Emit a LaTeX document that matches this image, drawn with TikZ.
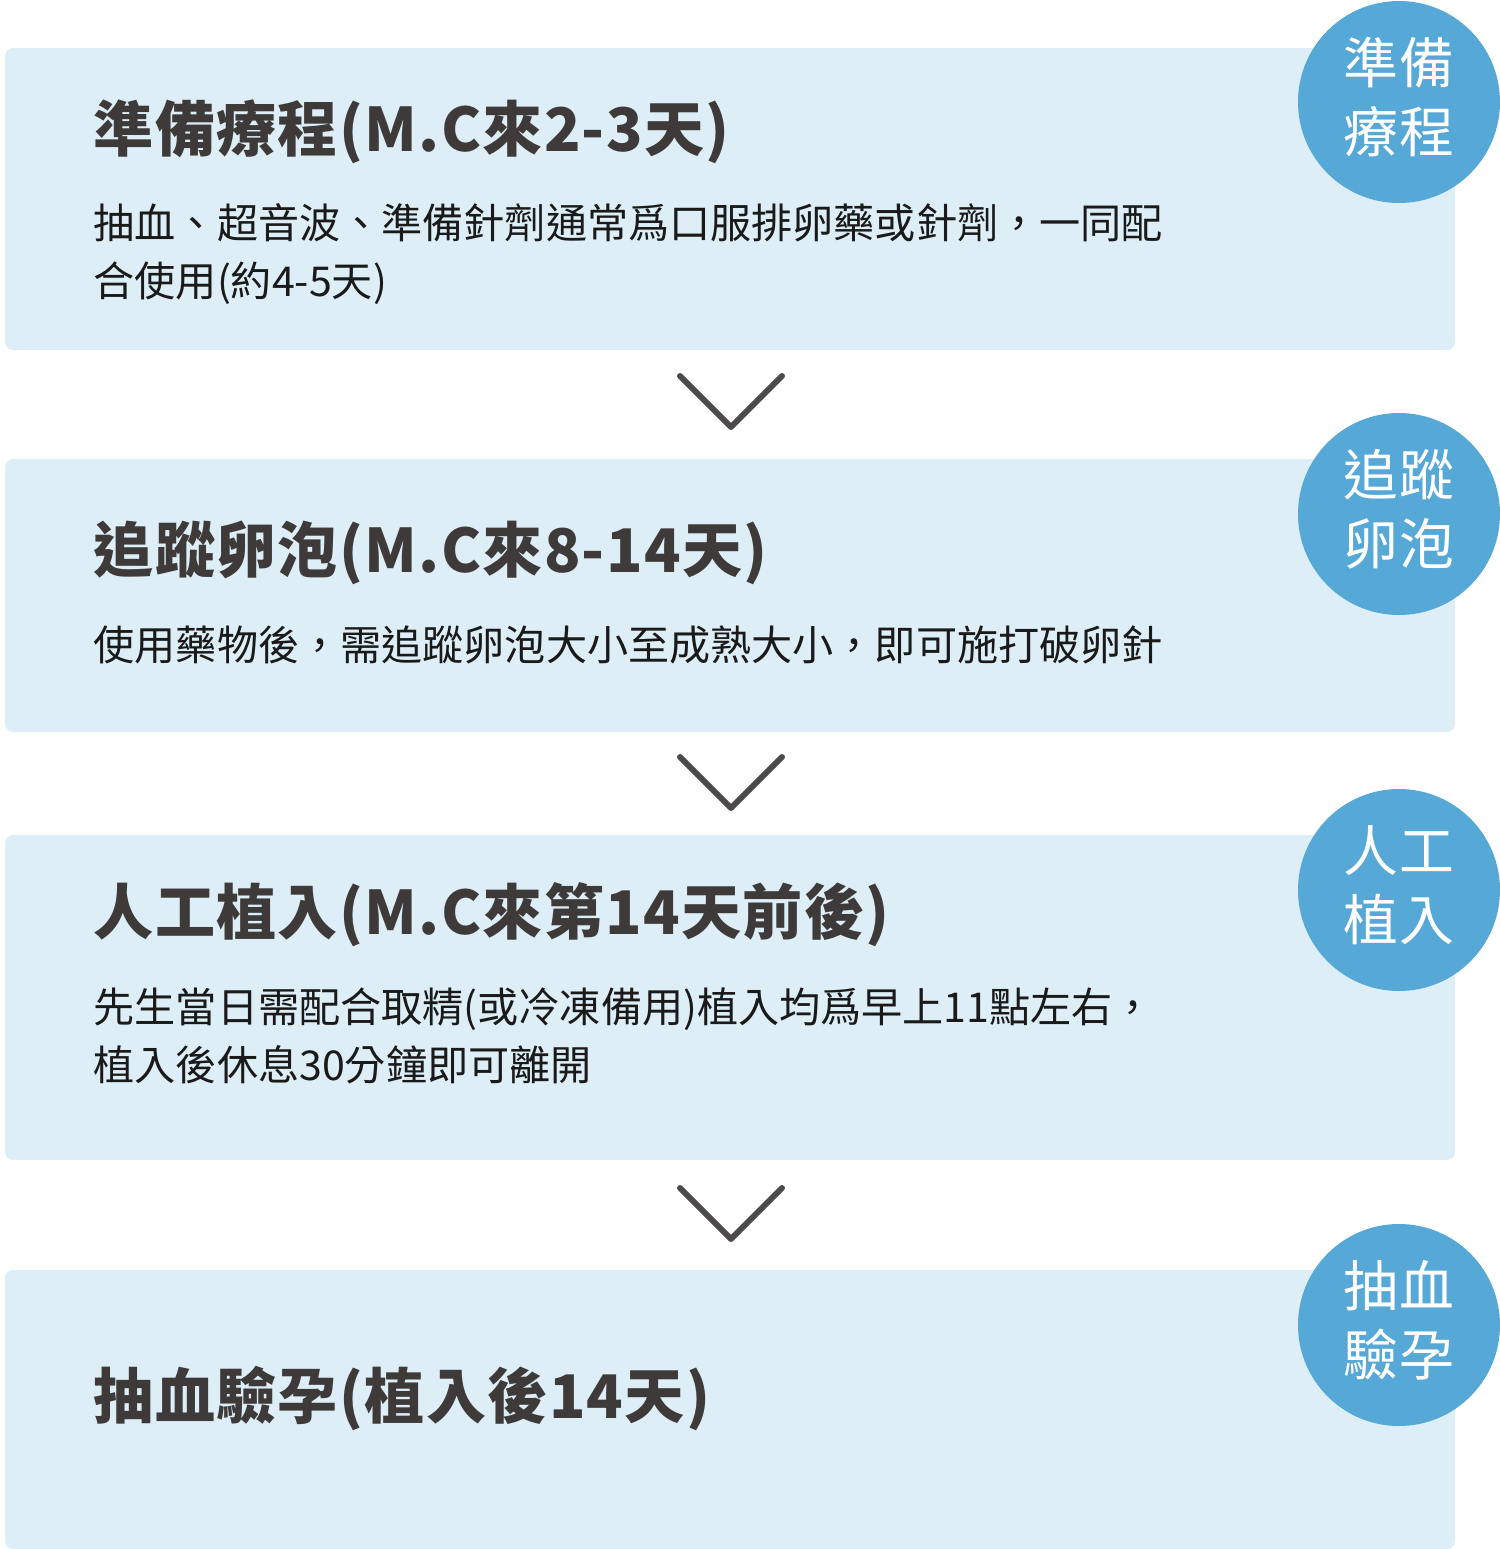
\documentclass[tikz,border=0pt]{standalone}
\usepackage{fontspec}
\setmainfont{Noto Sans CJK TC}
\definecolor{fondBoite}{HTML}{DDEEF7}
\definecolor{bleuRond}{HTML}{56A8D6}
\definecolor{grisTitre}{HTML}{3E3A39}
\definecolor{grisFleche}{HTML}{4D4A4B}
\definecolor{noirTexte}{HTML}{1A1A1A}

\begin{document}
\begin{tikzpicture}[x=1cm,y=1cm]
    % Styles (MODIFIABLES)
    \tikzstyle{boite}=[fill=fondBoite,rounded corners=0.08cm,inner sep=0,outer sep=0]
    \tikzstyle{rond}=[fill=bleuRond,circle,minimum size=2.02cm,inner sep=0]
    \tikzstyle{etiquette}=[inner sep=0,text=white,align=center,font=\fontsize{15.6pt}{19.6pt}\selectfont\addfontfeature{LetterSpace=2}]
    \tikzstyle{titre}=[anchor=west,inner sep=0,text=grisTitre,font=\fontsize{17.1pt}{20pt}\selectfont\bfseries\addfontfeature{LetterSpace=2.2}]
    \tikzstyle{texte}=[anchor=west,inner sep=0,text=noirTexte,align=left,font=\fontsize{11.7pt}{16.5pt}\selectfont]
    \tikzstyle{chevron}=[line width=1.7pt,grisFleche,line cap=round,line join=round]
    % Dimensions (MODIFIABLES)
    \def\Gauche{0.05}
    \def\Droite{14.55}
    \def\MargeTexte{0.93}
    \def\XRond{13.99}
    \def\DecalageEtiquette{0.05}
    \def\DemiChevron{0.51}
    % Cadre
    \useasboundingbox (0,0) rectangle (15,-15.49);
    % Boites
    \fill[boite] (\Gauche,-0.48) rectangle (\Droite,-3.50);
    \fill[boite] (\Gauche,-4.59) rectangle (\Droite,-7.32);
    \fill[boite] (\Gauche,-8.35) rectangle (\Droite,-11.60);
    \fill[boite] (\Gauche,-12.70) rectangle (\Droite,-15.49);
    % Noeuds (MODIFIABLES)
    \node[titre] (Ta) at (\MargeTexte,-1.32) {準備療程(M.C來2-3天)};
    \node[texte] (Ba) at (\MargeTexte,-2.54) {抽血、超音波、準備針劑通常爲口服排卵藥或針劑，一同配\\合使用(約4-5天)};
    \node[rond] (Ra) at (\XRond,-1.02) {};
    \node[etiquette] (Ea) at ([yshift=\DecalageEtiquette cm]Ra.center) {準備\\療程};

    \node[titre] (Tb) at (\MargeTexte,-5.53) {追蹤卵泡(M.C來8-14天)};
    \node[texte] (Bb) at (\MargeTexte,-6.45) {使用藥物後，需追蹤卵泡大小至成熟大小，即可施打破卵針};
    \node[rond] (Rb) at (\XRond,-5.14) {};
    \node[etiquette] (Eb) at ([yshift=\DecalageEtiquette cm]Rb.center) {追蹤\\卵泡};

    \node[titre] (Tc) at (\MargeTexte,-9.15) {人工植入(M.C來第14天前後)};
    \node[texte] (Bc) at (\MargeTexte,-10.36) {先生當日需配合取精(或冷凍備用)植入均爲早上11點左右，\\植入後休息30分鐘即可離開};
    \node[rond] (Rc) at (\XRond,-8.90) {};
    \node[etiquette] (Ec) at ([yshift=\DecalageEtiquette cm]Rc.center) {人工\\植入};

    \node[titre] (Td) at (\MargeTexte,-13.98) {抽血驗孕(植入後14天)};
    \node[rond] (Rd) at (\XRond,-13.25) {};
    \node[etiquette] (Ed) at ([yshift=\DecalageEtiquette cm]Rd.center) {抽血\\驗孕};
    % Chevrons
    \coordinate (Va) at (7.31,-4.27);
    \coordinate (Vb) at (7.31,-8.08);
    \coordinate (Vc) at (7.31,-12.39);
    \foreach \v in {Va,Vb,Vc}
        \draw[chevron] (\v) ++(-\DemiChevron,0.51) -- (\v) -- ++(\DemiChevron,0.51);
\end{tikzpicture}
\end{document}
